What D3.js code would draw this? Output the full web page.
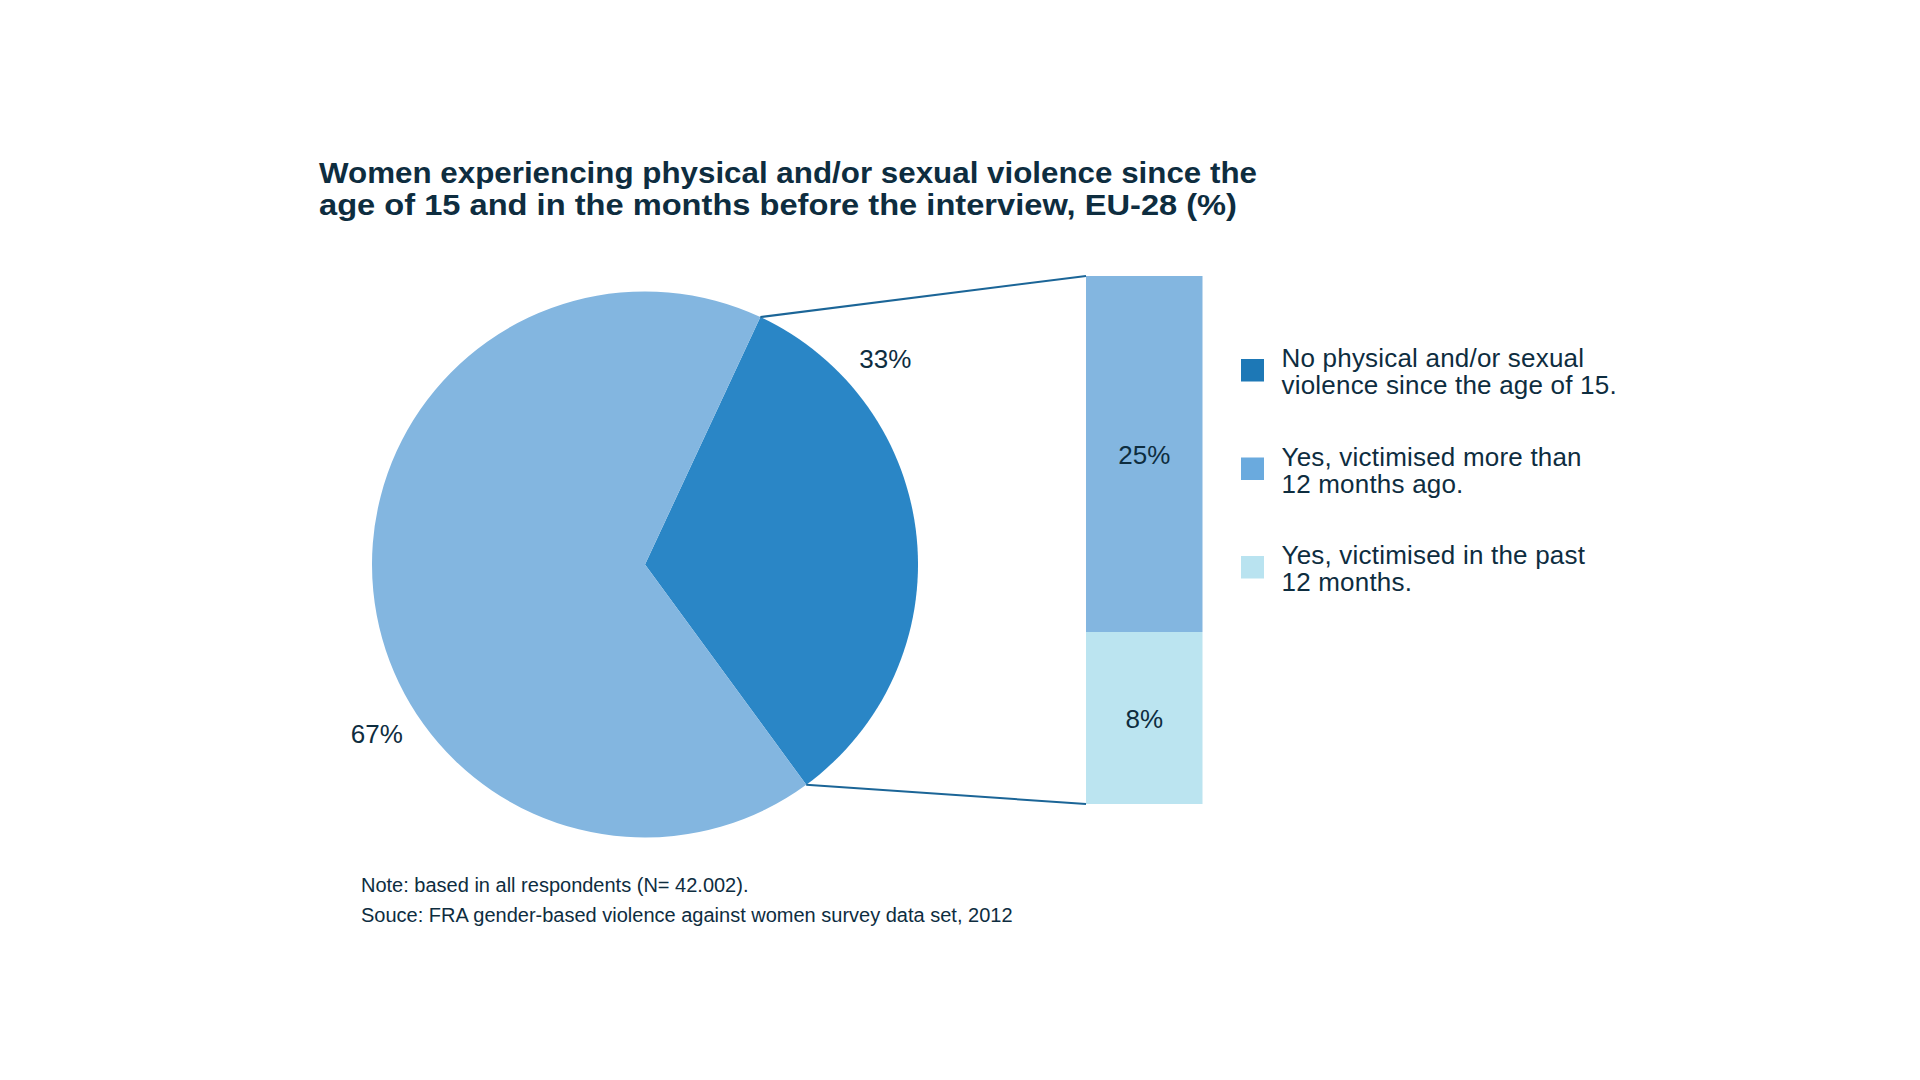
<!DOCTYPE html>
<html>
<head>
<meta charset="utf-8">
<script src="https://cdn.jsdelivr.net/npm/d3@7"></script>
<style>
  body { margin: 0; background: #fff; }
  text { font-family: "Liberation Sans", Arial, sans-serif; fill: #0e2d3f; }
</style>
</head>
<body>
<div id="chart"></div>
<script>
// data
const pieKeys = ["split", "rest"];
const pieValues = [33, 67];
const barKeys = ["older", "past"];
const barValues = [25, 8];
const legendLabels = [
  ["No physical and/or sexual", "violence since the age of 15."],
  ["Yes, victimised more than", "12 months ago."],
  ["Yes, victimised in the past", "12 months."]
];
const titleLines = [
  "Women experiencing physical and/or sexual violence since the",
  "age of 15 and in the months before the interview, EU-28 (%)"
];
const noteLines = [
  "Note: based in all respondents (N= 42.002).",
  "Souce: FRA gender-based violence against women survey data set, 2012"
];

// styling
const pieColor = d3.scaleOrdinal().domain(pieKeys).range(["#2a86c6", "#83b6e0"]);
const barColor = d3.scaleOrdinal().domain(barKeys).range(["#83b6e0", "#bbe4f0"]);
const legendColors = ["#1d78b6", "#6aaade", "#b9e3f0"];
const labelAt = [0.205, 0.39]; // where along each slice the outside label sits

const width = 1920, height = 1080;
const svg = d3.select("#chart").append("svg")
    .attr("width", width).attr("height", height);

// title
svg.append("g").selectAll("text")
    .data(titleLines)
    .enter().append("text")
    .attr("x", 319)
    .attr("y", (d, i) => 183 + i * 32)
    .attr("textLength", (d, i) => i === 0 ? 938 : 918)
    .attr("lengthAdjust", "spacingAndGlyphs")
    .style("font-size", "29px")
    .style("font-weight", "bold")
    .text(d => d);

// 1. Pie
const cx = 645, cy = 564.5, r = 273;
const deg = Math.PI / 180;
const pie = d3.pie().sort(null).startAngle(25 * deg).endAngle(385 * deg);
const arcs = pie(pieValues);
const arc = d3.arc().innerRadius(0).outerRadius(r);

const pieG = svg.append("g").attr("transform", `translate(${cx},${cy})`);
pieG.selectAll("path")
    .data(arcs)
    .enter().append("path")
    .attr("d", arc)
    .attr("fill", (d, i) => pieColor(pieKeys[i]));

const labelR = r * 1.16;
pieG.selectAll(".plabel")
    .data(arcs)
    .enter().append("text")
    .attr("class", "plabel")
    .attr("transform", (d, i) => {
        const a = d.startAngle + (d.endAngle - d.startAngle) * labelAt[i];
        return `translate(${labelR * Math.sin(a)},${-labelR * Math.cos(a)})`;
    })
    .attr("text-anchor", "middle")
    .attr("dy", "0.38em")
    .style("font-size", "26px")
    .text(d => d.value + "%");

// 2. Bar of pie (the reference bar is not drawn to scale, so a piecewise scale)
const barX = 1086, barW = 116.5;
const total = d3.sum(barValues);
const y = d3.scaleLinear()
    .domain([0, barValues[1], total])
    .range([804, 632, 276]);

const stacked = [
    { key: barKeys[1], value: barValues[1], y0: 0, y1: barValues[1] },
    { key: barKeys[0], value: barValues[0], y0: barValues[1], y1: total }
];

svg.selectAll(".seg")
    .data(stacked)
    .enter().append("rect")
    .attr("class", "seg")
    .attr("x", barX)
    .attr("y", d => y(d.y1))
    .attr("width", barW)
    .attr("height", d => y(d.y0) - y(d.y1))
    .attr("fill", d => barColor(d.key));

svg.selectAll(".blabel")
    .data(stacked)
    .enter().append("text")
    .attr("class", "blabel")
    .attr("x", barX + barW / 2)
    .attr("y", d => (y(d.y0) + y(d.y1)) / 2)
    .attr("dy", "0.38em")
    .attr("text-anchor", "middle")
    .style("font-size", "26px")
    .text(d => d.value + "%");

// connector lines from the split slice to the bar
const split = arcs[0];
const edge = a => [cx + r * Math.sin(a), cy - r * Math.cos(a)];
const links = [
    [edge(split.startAngle), [barX, y(total)]],
    [edge(split.endAngle), [barX, y(0)]]
];
svg.selectAll(".link")
    .data(links)
    .enter().append("line")
    .attr("class", "link")
    .attr("x1", d => d[0][0]).attr("y1", d => d[0][1])
    .attr("x2", d => d[1][0]).attr("y2", d => d[1][1])
    .attr("stroke", "#1b6597")
    .attr("stroke-width", 2);

// 3. Legend
const legend = svg.append("g").attr("transform", "translate(1241,359)");
const item = legend.selectAll("g")
    .data(legendLabels)
    .enter().append("g")
    .attr("transform", (d, i) => `translate(0,${i * 98.5})`);

item.append("rect")
    .attr("width", 23).attr("height", 22.5)
    .attr("fill", (d, i) => legendColors[i]);

item.selectAll("text")
    .data(d => d)
    .enter().append("text")
    .attr("x", 40.5)
    .attr("y", (d, i) => 8 + i * 27)
    .style("font-size", "26px")
    .style("letter-spacing", "0.2px")
    .text(d => d);

// notes
svg.append("g").selectAll("text")
    .data(noteLines)
    .enter().append("text")
    .attr("x", 361)
    .attr("y", (d, i) => 891.5 + i * 30)
    .style("font-size", "20px")
    .text(d => d);
</script>
</body>
</html>
